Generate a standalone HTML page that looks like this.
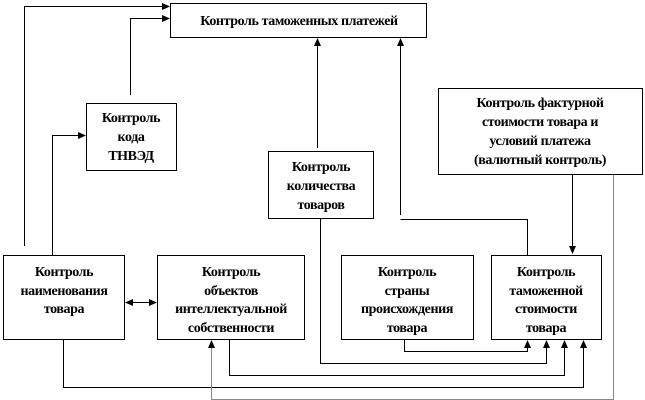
<!DOCTYPE html>
<html><head><meta charset="utf-8"><style>body{margin:0;background:#fff}svg{display:block}text{font-family:"Liberation Serif",serif;font-weight:bold;font-size:14px;text-anchor:middle;letter-spacing:-0.4px}</style></head><body>
<svg width="645" height="400" viewBox="0 0 645 400">
<defs>
<marker id="a" markerWidth="8" markerHeight="8" refX="7" refY="4" orient="auto" markerUnits="userSpaceOnUse"><path d="M0,0.5 L8,4 L0,7.5z" fill="#000"/></marker>
<marker id="b" markerWidth="8" markerHeight="8" refX="1" refY="4" orient="auto" markerUnits="userSpaceOnUse"><path d="M8,0.5 L0,4 L8,7.5z" fill="#000"/></marker>
</defs>
<g fill="none" stroke="#000" stroke-width="1">
<rect x="170.5" y="3.5" width="256" height="34"/>
<rect x="86.5" y="103.5" width="90" height="67"/>
<rect x="268.5" y="151.5" width="105" height="67"/>
<rect x="438.5" y="88.5" width="204" height="86"/>
<rect x="3.5" y="255.5" width="121" height="84"/>
<rect x="157.5" y="255.5" width="147" height="84"/>
<rect x="341.5" y="255.5" width="132" height="84"/>
<rect x="491.5" y="255.5" width="110" height="84"/>
<polyline points="24.5,246 24.5,6.5 169,6.5" marker-end="url(#a)"/>
<polyline points="130.5,95 130.5,18.5 169,18.5" marker-end="url(#a)"/>
<polyline points="52.5,255 52.5,135.5 85,135.5" marker-end="url(#a)"/>
<line x1="317.5" y1="148" x2="317.5" y2="39" marker-end="url(#a)"/>
<line x1="400.5" y1="215" x2="400.5" y2="39" marker-end="url(#a)"/>
<polyline points="400.5,219.5 527.5,219.5 527.5,255"/>
<line x1="572.5" y1="175" x2="572.5" y2="253" marker-end="url(#a)"/>
<line x1="126" y1="302.5" x2="156" y2="302.5" marker-start="url(#b)" marker-end="url(#a)"/>
<polyline points="404.5,340 404.5,351.5 527.5,351.5 527.5,341" marker-end="url(#a)"/>
<polyline points="320.5,219 320.5,363.5 546.5,363.5 546.5,341" marker-end="url(#a)"/>
<polyline points="229.5,340 229.5,375.5 564.5,375.5 564.5,341" marker-end="url(#a)"/>
<polyline points="63.5,340 63.5,387.5 583.5,387.5 583.5,341" marker-end="url(#a)"/>
<polyline points="613.5,175 613.5,399.5 211.5,399.5 211.5,341" stroke="#888" marker-end="url(#a)"/>
</g>
<text x="299" y="25">Контроль таможенных платежей</text>
<text x="131" y="122">Контроль</text><text x="131" y="141">кода</text><text x="131" y="160">ТНВЭД</text>
<text x="321" y="171">Контроль</text><text x="321" y="190">количества</text><text x="321" y="209">товаров</text>
<text x="540" y="107">Контроль фактурной</text><text x="540" y="126">стоимости товара и</text><text x="540" y="145">условий платежа</text><text x="540" y="164">(валютный контроль)</text>
<text x="64" y="276">Контроль</text><text x="64" y="295">наименования</text><text x="64" y="313">товара</text>
<text x="231" y="276">Контроль</text><text x="231" y="295">объектов</text><text x="231" y="313">интеллектуальной</text><text x="231" y="332">собственности</text>
<text x="407" y="276">Контроль</text><text x="407" y="295">страны</text><text x="407" y="313">происхождения</text><text x="407" y="332">товара</text>
<text x="546" y="276">Контроль</text><text x="546" y="295">таможенной</text><text x="546" y="313">стоимости</text><text x="546" y="332">товара</text>
</svg>
</body></html>
